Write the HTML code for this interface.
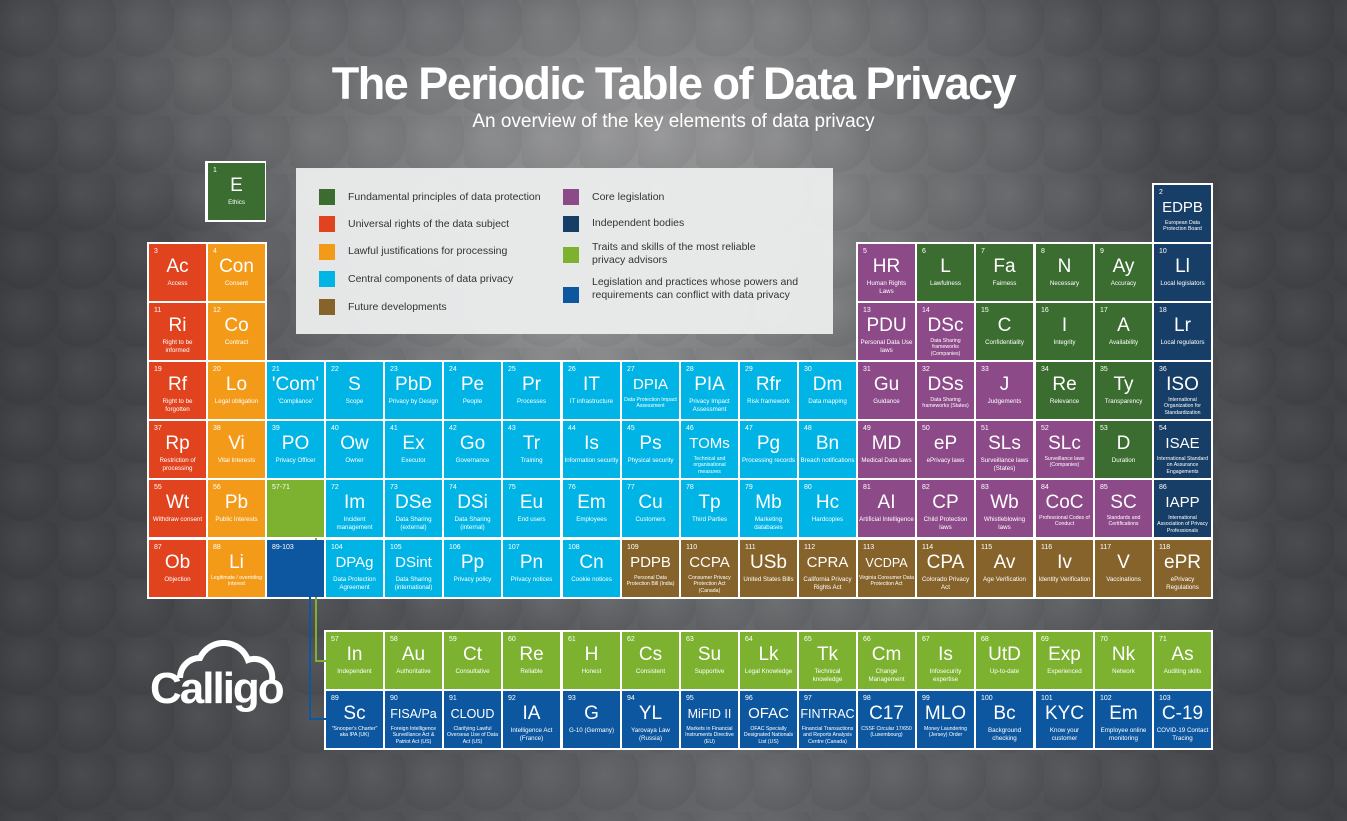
<!DOCTYPE html>
<html><head><meta charset="utf-8">
<style>
*{margin:0;padding:0;box-sizing:border-box}
body{width:1347px;height:821px;overflow:hidden;position:relative;font-family:"Liberation Sans",sans-serif;
background:
radial-gradient(ellipse 420px 300px at 560px 330px,rgba(190,190,190,.5),rgba(190,190,190,0) 100%),
radial-gradient(ellipse 520px 240px at 640px 120px,rgba(175,175,175,.6),rgba(175,175,175,0) 100%),
radial-gradient(ellipse 300px 380px at 1000px 470px,rgba(150,150,150,.4),rgba(150,150,150,0) 100%),
radial-gradient(ellipse 260px 200px at 200px 60px,rgba(140,140,140,.35),rgba(140,140,140,0) 100%),
linear-gradient(90deg,#3c3e42 0%,#515357 30%,#66676a 55%,#4a4c50 80%,#3f4145 100%);}
.tex{position:absolute;left:0;top:0;width:1347px;height:821px;
background:radial-gradient(circle at 40% 35%,rgba(255,255,255,.08),rgba(0,0,0,.08) 70%,rgba(0,0,0,0) 72%);background-size:58px 58px;opacity:.6}
h1{position:absolute;left:0;width:1347px;top:58px;text-align:center;color:#fff;font-size:45px;font-weight:bold;letter-spacing:-1.5px}
h2{position:absolute;left:0;width:1347px;top:111px;text-align:center;color:#fff;font-size:19px;font-weight:normal}
.w{position:absolute;background:#fff}
.c{position:absolute;width:57px;height:57px;color:#fff;text-align:center}
.c i{position:absolute;left:5px;top:4px;font-style:normal;font-size:7px}
.c b{position:absolute;left:0;right:0;top:12px;font-weight:normal;font-size:19px;line-height:22px;white-space:nowrap}
.c b.s{font-size:15px}
.c b.t{font-size:12.5px}
.c span{position:absolute;left:1px;right:1px;top:36px;font-size:6.2px;line-height:7.5px}
.c span.m{font-size:5.2px;line-height:6.3px;top:35px}
.g{background:#3b6d30}.r{background:#e1431e}.o{background:#f39b19}.cy{background:#00b4e6}.br{background:#86632b}
.p{background:#8d4a89}.n{background:#173e66}.lg{background:#7cb22f}.bl{background:#0d57a1}
.x1{left:149px}.x2{left:208px}.x3{left:267px}.x4{left:326px}.x5{left:385px}.x6{left:444px}.x7{left:503px}.x8{left:563px}.x9{left:622px}
.x10{left:681px}.x11{left:740px}.x12{left:799px}.x13{left:858px}.x14{left:917px}.x15{left:976px}.x16{left:1036px}.x17{left:1095px}.x18{left:1154px}
.y2{top:244px}.y3{top:303px}.y4{top:362px}.y5{top:421px}.y6{top:480px}.y7{top:540px}.l1{top:632px}.l2{top:691px}
.leg{position:absolute;left:296px;top:168px;width:537px;height:166px;background:rgba(236,237,237,.95)}
.leg div{position:absolute;font-size:10.5px;color:#333;line-height:13px}
.leg em{position:absolute;width:16px;height:16px}
</style></head><body>
<div class="tex"></div>
<h1>The Periodic Table of Data Privacy</h1>
<h2>An overview of the key elements of data privacy</h2>

<div class="leg">
<em class="g" style="left:23px;top:21px"></em><div style="left:52px;top:23px">Fundamental principles of data protection</div>
<em class="r" style="left:23px;top:48px"></em><div style="left:52px;top:50px">Universal rights of the data subject</div>
<em class="o" style="left:23px;top:76px"></em><div style="left:52px;top:77px">Lawful justifications for processing</div>
<em class="cy" style="left:23px;top:103px"></em><div style="left:52px;top:105px">Central components of data privacy</div>
<em class="br" style="left:23px;top:131px"></em><div style="left:52px;top:133px">Future developments</div>
<em class="p" style="left:267px;top:21px"></em><div style="left:296px;top:23px">Core legislation</div>
<em class="n" style="left:267px;top:48px"></em><div style="left:296px;top:49px">Independent bodies</div>
<em class="lg" style="left:267px;top:79px"></em><div style="left:296px;top:73px">Traits and skills of the most reliable<br>privacy advisors</div>
<em class="bl" style="left:267px;top:119px"></em><div style="left:296px;top:108px">Legislation and practices whose powers and<br>requirements can conflict with data privacy</div>
</div>

<div class="w" style="left:205px;top:161px;width:61px;height:61px"></div>
<div class="w" style="left:1152px;top:183px;width:61px;height:63px"></div>
<div class="w" style="left:147px;top:242px;width:120px;height:120px"></div>
<div class="w" style="left:856px;top:242px;width:357px;height:120px"></div>
<div class="w" style="left:147px;top:360px;width:1066px;height:239px"></div>
<div class="w" style="left:324px;top:630px;width:889px;height:120px"></div>

<div style="position:absolute;left:315px;top:538px;width:2px;height:124px;background:#7cb22f"></div>
<div style="position:absolute;left:315px;top:660px;width:11px;height:2px;background:#7cb22f"></div>
<div style="position:absolute;left:309px;top:597px;width:2px;height:123px;background:#0d57a1"></div>
<div style="position:absolute;left:309px;top:718px;width:17px;height:2px;background:#0d57a1"></div>

<div class="c g x2" style="top:163px"><i>1</i><b>E</b><span>Ethics</span></div>
<div class="c n x18" style="top:185px"><i>2</i><b class="s">EDPB</b><span class="m">European Data Protection Board</span></div>

<div class="c r x1 y2"><i>3</i><b>Ac</b><span>Access</span></div>
<div class="c o x2 y2"><i>4</i><b>Con</b><span>Consent</span></div>
<div class="c p x13 y2"><i>5</i><b>HR</b><span>Human Rights Laws</span></div>
<div class="c g x14 y2"><i>6</i><b>L</b><span>Lawfulness</span></div>
<div class="c g x15 y2"><i>7</i><b>Fa</b><span>Fairness</span></div>
<div class="c g x16 y2"><i>8</i><b>N</b><span>Necessary</span></div>
<div class="c g x17 y2"><i>9</i><b>Ay</b><span>Accuracy</span></div>
<div class="c n x18 y2"><i>10</i><b>Ll</b><span>Local legislators</span></div>

<div class="c r x1 y3"><i>11</i><b>Ri</b><span>Right to be informed</span></div>
<div class="c o x2 y3"><i>12</i><b>Co</b><span>Contract</span></div>
<div class="c p x13 y3"><i>13</i><b>PDU</b><span>Personal Data Use laws</span></div>
<div class="c p x14 y3"><i>14</i><b>DSc</b><span class="m">Data Sharing frameworks (Companies)</span></div>
<div class="c g x15 y3"><i>15</i><b>C</b><span>Confidentiality</span></div>
<div class="c g x16 y3"><i>16</i><b>I</b><span>Integrity</span></div>
<div class="c g x17 y3"><i>17</i><b>A</b><span>Availability</span></div>
<div class="c n x18 y3"><i>18</i><b>Lr</b><span>Local regulators</span></div>

<div class="c r x1 y4"><i>19</i><b>Rf</b><span>Right to be forgotten</span></div>
<div class="c o x2 y4"><i>20</i><b>Lo</b><span>Legal obligation</span></div>
<div class="c cy x3 y4"><i>21</i><b>'Com'</b><span>'Compliance'</span></div>
<div class="c cy x4 y4"><i>22</i><b>S</b><span>Scope</span></div>
<div class="c cy x5 y4"><i>23</i><b>PbD</b><span>Privacy by Design</span></div>
<div class="c cy x6 y4"><i>24</i><b>Pe</b><span>People</span></div>
<div class="c cy x7 y4"><i>25</i><b>Pr</b><span>Processes</span></div>
<div class="c cy x8 y4"><i>26</i><b>IT</b><span>IT infrastructure</span></div>
<div class="c cy x9 y4"><i>27</i><b class="s">DPIA</b><span class="m">Data Protection Impact Assessment</span></div>
<div class="c cy x10 y4"><i>28</i><b>PIA</b><span>Privacy Impact Assessment</span></div>
<div class="c cy x11 y4"><i>29</i><b>Rfr</b><span>Risk framework</span></div>
<div class="c cy x12 y4"><i>30</i><b>Dm</b><span>Data mapping</span></div>
<div class="c p x13 y4"><i>31</i><b>Gu</b><span>Guidance</span></div>
<div class="c p x14 y4"><i>32</i><b>DSs</b><span class="m">Data Sharing frameworks (States)</span></div>
<div class="c p x15 y4"><i>33</i><b>J</b><span>Judgements</span></div>
<div class="c g x16 y4"><i>34</i><b>Re</b><span>Relevance</span></div>
<div class="c g x17 y4"><i>35</i><b>Ty</b><span>Transparency</span></div>
<div class="c n x18 y4"><i>36</i><b>ISO</b><span class="m">International Organization for Standardization</span></div>

<div class="c r x1 y5"><i>37</i><b>Rp</b><span>Restriction of processing</span></div>
<div class="c o x2 y5"><i>38</i><b>Vi</b><span>Vital Interests</span></div>
<div class="c cy x3 y5"><i>39</i><b>PO</b><span>Privacy Officer</span></div>
<div class="c cy x4 y5"><i>40</i><b>Ow</b><span>Owner</span></div>
<div class="c cy x5 y5"><i>41</i><b>Ex</b><span>Executor</span></div>
<div class="c cy x6 y5"><i>42</i><b>Go</b><span>Governance</span></div>
<div class="c cy x7 y5"><i>43</i><b>Tr</b><span>Training</span></div>
<div class="c cy x8 y5"><i>44</i><b>Is</b><span>Information security</span></div>
<div class="c cy x9 y5"><i>45</i><b>Ps</b><span>Physical security</span></div>
<div class="c cy x10 y5"><i>46</i><b class="s">TOMs</b><span class="m">Technical and organisational measures</span></div>
<div class="c cy x11 y5"><i>47</i><b>Pg</b><span>Processing records</span></div>
<div class="c cy x12 y5"><i>48</i><b>Bn</b><span>Breach notifications</span></div>
<div class="c p x13 y5"><i>49</i><b>MD</b><span>Medical Data laws</span></div>
<div class="c p x14 y5"><i>50</i><b>eP</b><span>ePrivacy laws</span></div>
<div class="c p x15 y5"><i>51</i><b>SLs</b><span>Surveillance laws (States)</span></div>
<div class="c p x16 y5"><i>52</i><b>SLc</b><span class="m">Surveillance laws (Companies)</span></div>
<div class="c g x17 y5"><i>53</i><b>D</b><span>Duration</span></div>
<div class="c n x18 y5"><i>54</i><b class="s">ISAE</b><span class="m">International Standard on Assurance Engagements</span></div>

<div class="c r x1 y6"><i>55</i><b>Wt</b><span>Withdraw consent</span></div>
<div class="c o x2 y6"><i>56</i><b>Pb</b><span>Public Interests</span></div>
<div class="c lg x3 y6"><i>57-71</i></div>
<div class="c cy x4 y6"><i>72</i><b>Im</b><span>Incident management</span></div>
<div class="c cy x5 y6"><i>73</i><b>DSe</b><span>Data Sharing (external)</span></div>
<div class="c cy x6 y6"><i>74</i><b>DSi</b><span>Data Sharing (internal)</span></div>
<div class="c cy x7 y6"><i>75</i><b>Eu</b><span>End users</span></div>
<div class="c cy x8 y6"><i>76</i><b>Em</b><span>Employees</span></div>
<div class="c cy x9 y6"><i>77</i><b>Cu</b><span>Customers</span></div>
<div class="c cy x10 y6"><i>78</i><b>Tp</b><span>Third Parties</span></div>
<div class="c cy x11 y6"><i>79</i><b>Mb</b><span>Marketing databases</span></div>
<div class="c cy x12 y6"><i>80</i><b>Hc</b><span>Hardcopies</span></div>
<div class="c p x13 y6"><i>81</i><b>AI</b><span>Artificial Intelligence</span></div>
<div class="c p x14 y6"><i>82</i><b>CP</b><span>Child Protection laws</span></div>
<div class="c p x15 y6"><i>83</i><b>Wb</b><span>Whistleblowing laws</span></div>
<div class="c p x16 y6"><i>84</i><b>CoC</b><span class="m">Professional Codes of Conduct</span></div>
<div class="c p x17 y6"><i>85</i><b>SC</b><span class="m">Standards and Certifications</span></div>
<div class="c n x18 y6"><i>86</i><b class="s">IAPP</b><span class="m">International Association of Privacy Professionals</span></div>

<div class="c r x1 y7"><i>87</i><b>Ob</b><span>Objection</span></div>
<div class="c o x2 y7"><i>88</i><b>Li</b><span class="m">Legitimate / overriding interest</span></div>
<div class="c bl x3 y7"><i>89-103</i></div>
<div class="c cy x4 y7"><i>104</i><b class="s">DPAg</b><span>Data Protection Agreement</span></div>
<div class="c cy x5 y7"><i>105</i><b class="s">DSint</b><span>Data Sharing (international)</span></div>
<div class="c cy x6 y7"><i>106</i><b>Pp</b><span>Privacy policy</span></div>
<div class="c cy x7 y7"><i>107</i><b>Pn</b><span>Privacy notices</span></div>
<div class="c cy x8 y7"><i>108</i><b>Cn</b><span>Cookie notices</span></div>
<div class="c br x9 y7"><i>109</i><b class="s">PDPB</b><span class="m">Personal Data Protection Bill (India)</span></div>
<div class="c br x10 y7"><i>110</i><b class="s">CCPA</b><span class="m">Consumer Privacy Protection Act (Canada)</span></div>
<div class="c br x11 y7"><i>111</i><b>USb</b><span>United States Bills</span></div>
<div class="c br x12 y7"><i>112</i><b class="s">CPRA</b><span>California Privacy Rights Act</span></div>
<div class="c br x13 y7"><i>113</i><b class="t">VCDPA</b><span class="m">Virginia Consumer Data Protection Act</span></div>
<div class="c br x14 y7"><i>114</i><b>CPA</b><span>Colorado Privacy Act</span></div>
<div class="c br x15 y7"><i>115</i><b>Av</b><span>Age Verification</span></div>
<div class="c br x16 y7"><i>116</i><b>Iv</b><span>Identity Verification</span></div>
<div class="c br x17 y7"><i>117</i><b>V</b><span>Vaccinations</span></div>
<div class="c br x18 y7"><i>118</i><b>ePR</b><span>ePrivacy Regulations</span></div>

<div class="c lg x4 l1"><i>57</i><b>In</b><span>Independent</span></div>
<div class="c lg x5 l1"><i>58</i><b>Au</b><span>Authoritative</span></div>
<div class="c lg x6 l1"><i>59</i><b>Ct</b><span>Consultative</span></div>
<div class="c lg x7 l1"><i>60</i><b>Re</b><span>Reliable</span></div>
<div class="c lg x8 l1"><i>61</i><b>H</b><span>Honest</span></div>
<div class="c lg x9 l1"><i>62</i><b>Cs</b><span>Consistent</span></div>
<div class="c lg x10 l1"><i>63</i><b>Su</b><span>Supportive</span></div>
<div class="c lg x11 l1"><i>64</i><b>Lk</b><span>Legal Knowledge</span></div>
<div class="c lg x12 l1"><i>65</i><b>Tk</b><span>Technical knowledge</span></div>
<div class="c lg x13 l1"><i>66</i><b>Cm</b><span>Change Management</span></div>
<div class="c lg x14 l1"><i>67</i><b>Is</b><span>Infosecurity expertise</span></div>
<div class="c lg x15 l1"><i>68</i><b>UtD</b><span>Up-to-date</span></div>
<div class="c lg x16 l1"><i>69</i><b>Exp</b><span>Experienced</span></div>
<div class="c lg x17 l1"><i>70</i><b>Nk</b><span>Network</span></div>
<div class="c lg x18 l1"><i>71</i><b>As</b><span>Auditing skills</span></div>

<div class="c bl x4 l2"><i>89</i><b>Sc</b><span class="m">"Snooper's Charter" aka IPA (UK)</span></div>
<div class="c bl x5 l2"><i>90</i><b class="t">FISA/Pa</b><span class="m">Foreign Intelligence Surveillance Act &amp; Patriot Act (US)</span></div>
<div class="c bl x6 l2"><i>91</i><b class="t">CLOUD</b><span class="m">Clarifying Lawful Overseas Use of Data Act (US)</span></div>
<div class="c bl x7 l2"><i>92</i><b>IA</b><span>Intelligence Act (France)</span></div>
<div class="c bl x8 l2"><i>93</i><b>G</b><span>G-10 (Germany)</span></div>
<div class="c bl x9 l2"><i>94</i><b>YL</b><span>Yarovaya Law (Russia)</span></div>
<div class="c bl x10 l2"><i>95</i><b class="t">MiFID II</b><span class="m">Markets in Financial Instruments Directive (EU)</span></div>
<div class="c bl x11 l2"><i>96</i><b class="s">OFAC</b><span class="m">OFAC Specially Designated Nationals List (US)</span></div>
<div class="c bl x12 l2"><i>97</i><b class="t">FINTRAC</b><span class="m">Financial Transactions and Reports Analysis Centre (Canada)</span></div>
<div class="c bl x13 l2"><i>98</i><b>C17</b><span class="m">CSSF Circular 17/650 (Luxembourg)</span></div>
<div class="c bl x14 l2"><i>99</i><b>MLO</b><span class="m">Money Laundering (Jersey) Order</span></div>
<div class="c bl x15 l2"><i>100</i><b>Bc</b><span>Background checking</span></div>
<div class="c bl x16 l2"><i>101</i><b>KYC</b><span>Know your customer</span></div>
<div class="c bl x17 l2"><i>102</i><b>Em</b><span>Employee online monitoring</span></div>
<div class="c bl x18 l2"><i>103</i><b>C-19</b><span>COVID-19 Contact Tracing</span></div>

<svg style="position:absolute;left:150px;top:640px" width="150" height="80">
<path d="M30 38 A20 20 0 0 1 50 18 A26 26 0 0 1 98 20 A18 18 0 0 1 122 40" fill="none" stroke="#fff" stroke-width="6"/>
</svg>
<div style="position:absolute;left:150px;top:664px;color:#fff;font-size:44px;font-weight:bold;letter-spacing:-2px">Calligo</div>
</body></html>
